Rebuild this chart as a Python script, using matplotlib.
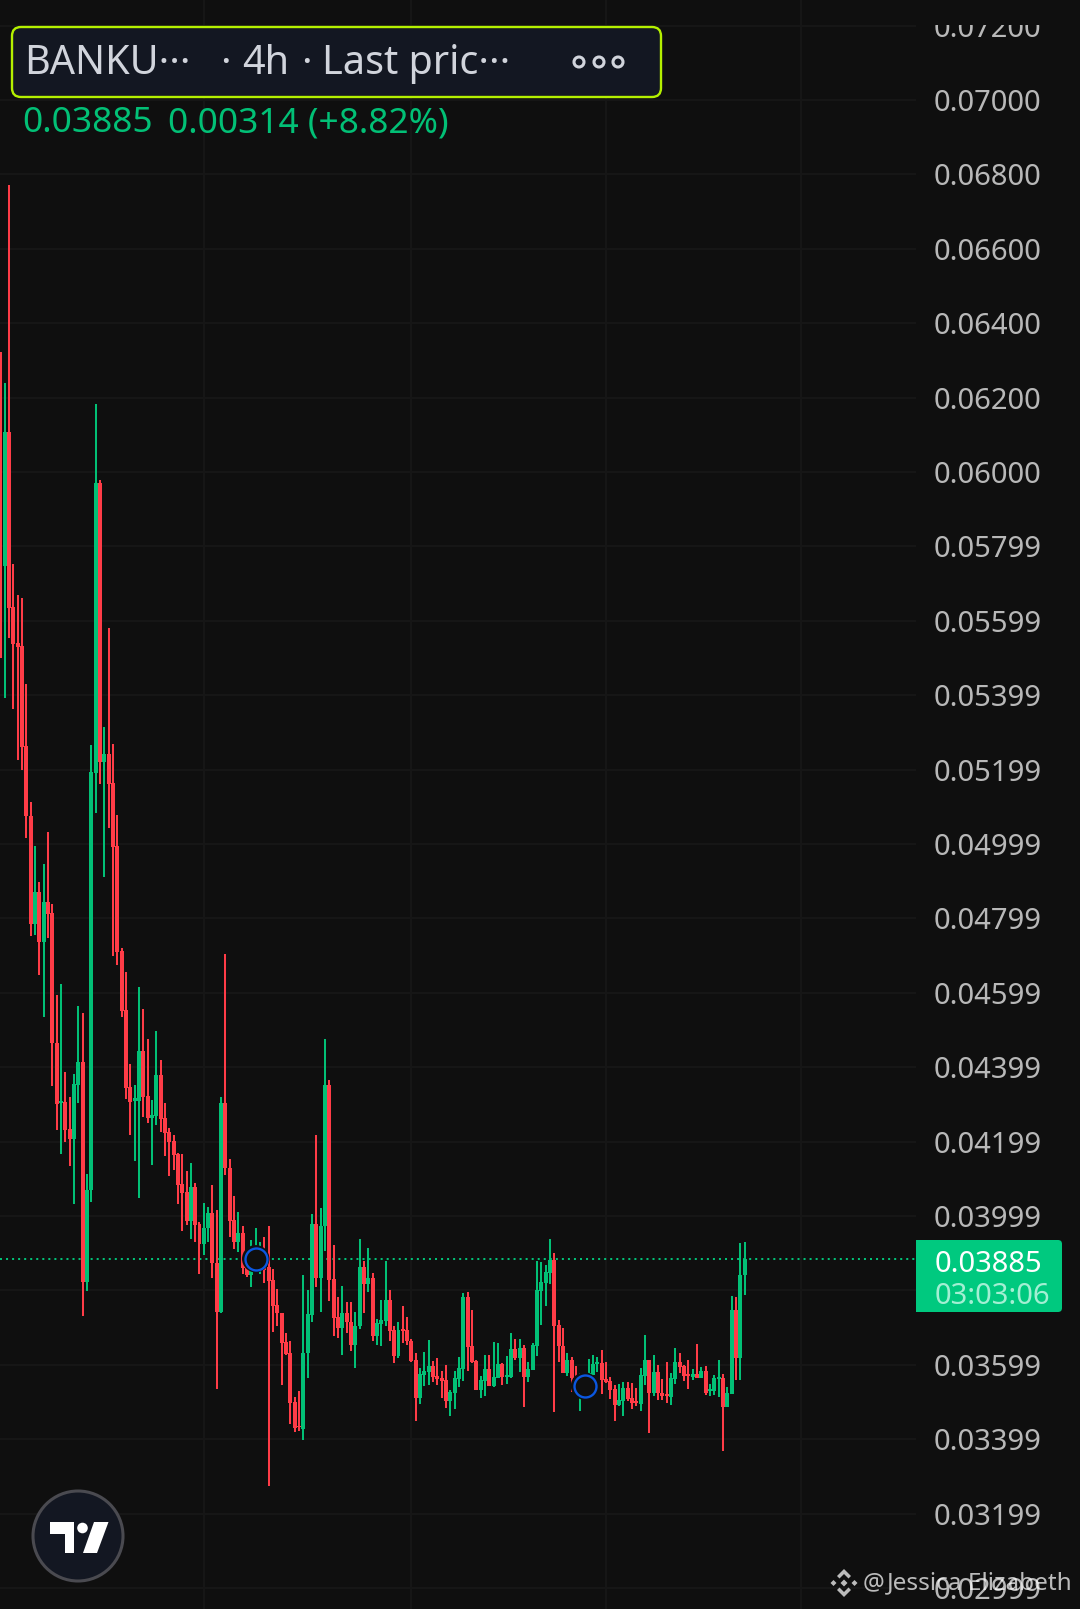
import numpy as np
import matplotlib
matplotlib.use("Agg")
import matplotlib.pyplot as plt
from matplotlib.patches import FancyBboxPatch, Rectangle, Circle, Polygon

plt.rcParams['font.family'] = ['Noto Sans', 'DejaVu Sans']

# candles, prices in 1e-5 units
opens = [
    6207,5747,6107,5637,5541,5532,5264,5076,4784,4871,
    4737,4844,4815,4465,4304,4307,4233,4208,4353,4413,
    3823,4070,5192,5971,5221,5242,5164,4994,4713,4554,
    4346,4309,4309,4444,4323,4263,4269,4379,4263,4226,
    4201,4166,4086,4065,3986,4078,3978,3926,3968,4008,
    3874,3741,4305,4130,3988,3929,3955,3864,3842,3854,
    3856,3861,3863,3828,3760,3740,3661,3632,3500,3435,
    3428,3633,3735,3979,3834,3974,4353,3831,3728,3698,
    3739,3714,3654,3703,3863,3818,3834,3678,3710,3718,
    3774,3694,3624,3696,3694,3664,3613,3511,3573,3581,
    3597,3570,3565,3559,3503,3524,3562,3589,3782,3651,
    3610,3532,3556,3589,3543,3565,3602,3567,3567,3642,
    3618,3645,3567,3586,3651,3799,3820,3847,3882,3707,
    3651,3578,3613,3565,3514,3523,3568,3573,3602,3605,
    3562,3556,3535,3492,3503,3538,3510,3503,3495,3570,
    3613,3524,3581,3524,3522,3513,3562,3608,3597,3575,
    3567,3575,3565,3583,3530,3530,3562,3565,3487,3522,
    3747,3618,3841]
closes = [
    5747,6107,5634,5538,5530,5261,5074,4784,4871,4737,
    4844,4812,4464,4302,4310,4231,4208,4355,4413,3823,
    4070,5194,5971,5221,5242,5161,4992,4710,4551,4344,
    4307,4316,4444,4320,4263,4271,4379,4261,4223,4199,
    4164,4083,4061,3986,4078,3976,3926,3968,4008,3873,
    3741,4305,4130,3987,3929,3955,3859,3842,3854,3888,
    3878,3854,3825,3758,3738,3659,3628,3498,3431,3432,
    3633,3737,3979,3834,3974,4353,3829,3726,3698,3739,
    3714,3654,3703,3863,3818,3834,3678,3713,3720,3774,
    3691,3624,3694,3691,3664,3609,3511,3575,3583,3597,
    3567,3562,3556,3503,3527,3565,3591,3782,3648,3608,
    3532,3559,3589,3543,3567,3602,3567,3573,3642,3618,
    3645,3567,3589,3653,3801,3823,3849,3882,3704,3651,
    3578,3613,3565,3546,3546,3555,3577,3602,3608,3559,
    3554,3532,3492,3505,3538,3508,3497,3497,3573,3613,
    3524,3581,3524,3516,3516,3565,3608,3594,3570,3570,
    3575,3565,3583,3524,3535,3565,3567,3487,3524,3747,
    3618,3841,3885]
highs = [
    6322,6239,6771,5752,5669,5661,5430,5113,4995,4897,
    4946,5033,4840,4594,4624,4388,4320,4381,4565,4546,
    4113,5266,6182,5979,5314,5581,5269,5078,4721,4656,
    4409,4353,4616,4556,4476,4311,4498,4419,4304,4236,
    4218,4170,4166,4121,4143,4089,3985,4034,4024,4083,
    4016,4320,4704,4153,4054,4010,3974,3878,3936,3968,
    3930,3943,3974,3857,3804,3740,3686,3664,3513,3529,
    3842,3801,4006,4218,4022,4476,4366,3922,3782,3812,
    3769,3769,3742,3938,3879,3914,3847,3722,3774,3879,
    3801,3704,3715,3758,3728,3669,3632,3591,3634,3667,
    3610,3618,3583,3600,3532,3583,3621,3793,3796,3747,
    3613,3570,3626,3626,3661,3659,3605,3624,3685,3669,
    3669,3653,3608,3659,3879,3876,3868,3938,3901,3720,
    3699,3632,3621,3597,3578,3568,3616,3626,3621,3640,
    3608,3567,3546,3548,3554,3554,3551,3538,3591,3680,
    3613,3626,3600,3562,3608,3578,3645,3632,3600,3613,
    3589,3656,3594,3597,3548,3573,3613,3575,3540,3785,
    3782,3927,3930]
lows = [
    5500,5392,5555,5362,5225,5200,5015,4753,4756,4648,
    4534,4748,4350,4231,4166,4200,4135,4033,4304,3731,
    3798,4038,5084,5161,4911,5043,4699,4675,4535,4315,
    4218,4148,4048,4266,4250,4138,4245,4226,4161,4108,
    4124,4033,3960,3976,3938,3930,3844,3895,3931,3832,
    3535,3738,4111,3943,3910,3903,3844,3835,3808,3854,
    3844,3820,3275,3688,3704,3547,3626,3441,3419,3422,
    3398,3565,3715,3809,3742,3906,3771,3677,3673,3626,
    3686,3637,3592,3697,3740,3795,3664,3653,3651,3704,
    3664,3606,3618,3659,3653,3608,3449,3495,3543,3546,
    3554,3546,3511,3484,3462,3481,3540,3556,3583,3605,
    3532,3511,3516,3543,3540,3565,3546,3548,3565,3613,
    3581,3487,3554,3586,3624,3707,3758,3817,3473,3608,
    3578,3570,3527,3519,3476,3519,3564,3573,3581,3522,
    3550,3508,3449,3489,3462,3503,3481,3489,3476,3546,
    3417,3516,3505,3505,3497,3492,3548,3578,3556,3535,
    3559,3565,3565,3519,3516,3519,3513,3368,3487,3522,
    3559,3559,3788]

price_ticks = [0.072, 0.070, 0.068, 0.066, 0.064, 0.062, 0.060, 0.058, 0.056, 0.054, 0.052,
               0.050, 0.048, 0.046, 0.044, 0.042, 0.040, 0.038, 0.036, 0.034, 0.032, 0.030]
price_labels = ['0.07200', '0.07000', '0.06800', '0.06600', '0.06400', '0.06200', '0.06000',
                '0.05799', '0.05599', '0.05399', '0.05199', '0.04999', '0.04799', '0.04599',
                '0.04399', '0.04199', '0.03999', '', '0.03599', '0.03399', '0.03199', '0.02999']
time_ticks = [47, 95, 140, 185]
last_price = 0.03885
marker_idx = [59, 135]
marker_price = [0.03885, 0.03543]

BG = '#0f0f0f'
GRID = '#171717'
GREEN = '#02c076'
RED = '#ff3c47'
LABEL = '#b8b8b8'

W, H = 1080, 1609
fig = plt.figure(figsize=(W / 100, H / 100), dpi=100, facecolor=BG)

# price chart, right edge is where the price scale starts
ax = fig.add_axes([0, 0, 916 / W, 1], facecolor=BG)
ax.set_zorder(1)
step = 4.326
ax.set_xlim(-0.5 / step, 915.5 / step)
ax.set_ylim(0.07 - 1509 / 37200, 0.07 + 100 / 37200)

o = np.array(opens) / 1e5
c = np.array(closes) / 1e5
hi = np.array(highs) / 1e5
lo = np.array(lows) / 1e5
x = np.arange(len(o))
colors = [GREEN if b >= a else RED for a, b in zip(o, c)]

wicks = ax.vlines(x, lo, hi, colors=colors, linewidth=1.45, zorder=2, capstyle='butt')
wicks.set_snap(True)
ax.bar(x, np.maximum(np.abs(c - o), 4e-5), bottom=np.minimum(o, c), width=0.92,
       color=colors, linewidth=0, zorder=2)

last_line = ax.axhline(last_price, color=GREEN, linewidth=1.45, linestyle=(0, (1, 2)), zorder=1)
last_line.set_snap(True)
ax.scatter(marker_idx, marker_price, s=390, facecolor=BG, edgecolor='none', zorder=3)
ax.scatter(marker_idx, marker_price, s=250, facecolor=BG, edgecolor='#0b57e0',
           linewidth=1.7, zorder=4)

ax.set_xticks(time_ticks)
ax.set_yticks(price_ticks)
ax.set_yticklabels(price_labels, va='center_baseline')
ax.yaxis.tick_right()
ax.tick_params(axis='both', length=0)
ax.tick_params(axis='y', pad=12.5, labelsize=21, labelcolor=LABEL)
ax.tick_params(axis='x', labelbottom=False)
ax.grid(True, color=GRID, linewidth=1.4, zorder=0)
ax.set_axisbelow(True)
for s in ax.spines.values():
    s.set_visible(False)

# everything around the chart, in picture pixels
ov = fig.add_axes([0, 0, 1, 1])
ov.set_zorder(2)
ov.set_xlim(0, W)
ov.set_ylim(H, 0)
ov.axis('off')
ov.patch.set_alpha(0)

# top label is cut off by the legend strip
ov.add_patch(Rectangle((916, 0), W - 916, 25, facecolor=BG, edgecolor='none'))

# legend box
ov.add_patch(FancyBboxPatch((12, 27), 649, 70, boxstyle='round,pad=0,rounding_size=9',
                            facecolor='#131722', edgecolor='#b4f000', linewidth=1.7))
head = '#d1d4dc'
for tx, s in [(24, 'BANKU\u00b7\u00b7\u00b7'), (220, '\u00b7'), (242, '4h'), (301, '\u00b7'),
              (322, 'Last pric\u00b7\u00b7\u00b7')]:
    ov.text(tx, 64, s, color=head, fontsize=28.5, va='center', ha='left')
for cx in [579, 599, 618]:
    ov.add_patch(Circle((cx, 62), 5, facecolor='none', edgecolor=head, linewidth=2.2))
ov.text(22, 123, '0.03885', color=GREEN, fontsize=25.4, va='center', ha='left')
ov.text(168, 123, '0.00314 (+8.82%)', color=GREEN, fontsize=25.4, va='center', ha='left')

# last price label
ov.add_patch(FancyBboxPatch((916, 1240), 146, 72, boxstyle='round,pad=0,rounding_size=4',
                            facecolor='#00c97f', edgecolor='none'))
ov.add_patch(Rectangle((916, 1240), 10, 72, facecolor='#00c97f', edgecolor='none'))
ov.text(935, 1264, '0.03885', color='white', fontsize=21, va='center', ha='left')
ov.text(935, 1296, '03:03:06', color='#a3efd3', fontsize=21, va='center', ha='left')

# tradingview badge
ov.add_patch(Circle((78, 1536), 45, facecolor='#131722', edgecolor='#4a4a50', linewidth=2.2))
ov.add_patch(Polygon([(50, 1522), (74, 1522), (74, 1553), (65, 1553), (65, 1534), (50, 1534)],
                     facecolor='white', edgecolor='none'))
ov.add_patch(Circle((82.5, 1528), 5.3, facecolor='white', edgecolor='none'))
ov.add_patch(Polygon([(94, 1522), (108.5, 1522), (97, 1553), (83, 1553)],
                     facecolor='white', edgecolor='none'))

# watermark
wm = (1, 1, 1, 0.72)
bx, by = 844, 1583
for pts in [[(0, -14), (7, -7), (4.5, -4.5), (0, -9), (-4.5, -4.5), (-7, -7)],
            [(0, 14), (7, 7), (4.5, 4.5), (0, 9), (-4.5, 4.5), (-7, 7)],
            [(0, -3.5), (3.5, 0), (0, 3.5), (-3.5, 0)],
            [(-13.5, 0), (-10.5, -3), (-7.5, 0), (-10.5, 3)],
            [(13.5, 0), (10.5, -3), (7.5, 0), (10.5, 3)]]:
    ov.add_patch(Polygon([(bx + a, by + b) for a, b in pts], facecolor=wm, edgecolor='none'))
ov.text(863, 1583, '@', color=wm, fontsize=17.5, va='center', ha='left')
ov.text(887, 1583, 'Jessica Elizabeth', color=wm, fontsize=17.5, va='center', ha='left')

fig.savefig('out.png', dpi=100, facecolor=BG)
